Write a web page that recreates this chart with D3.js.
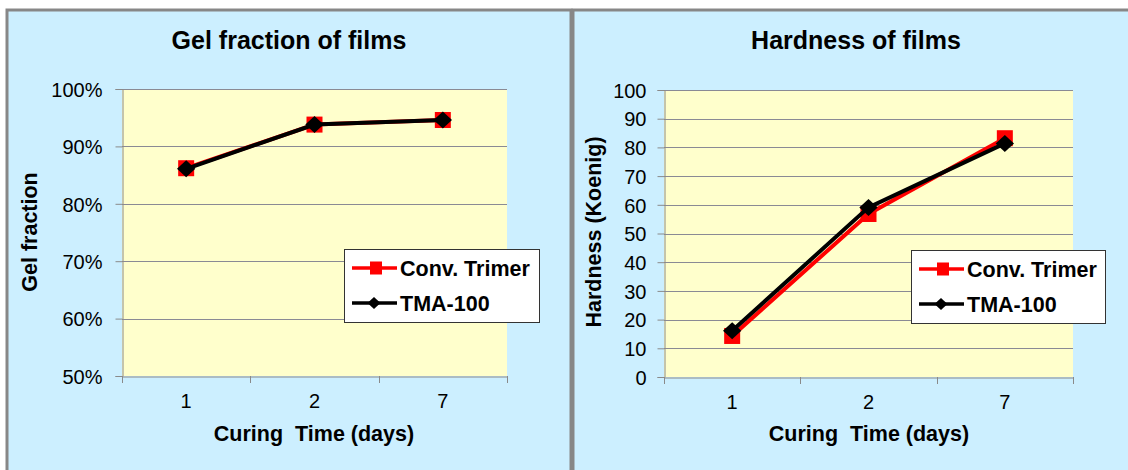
<!DOCTYPE html>
<html><head><meta charset="utf-8">
<script src="https://cdn.jsdelivr.net/npm/d3@7"></script>
<style>body{margin:0;background:#fff}svg{display:block}text{font-family:"Liberation Sans",Arial,sans-serif}</style>
</head><body>
<svg id="c" width="1128" height="470"></svg>
<script>
const categories = ["1","2","7"];
const gelConvTrimer = [0.862, 0.938, 0.946];
const gelTMA100 = [0.861, 0.938, 0.946];
const hardConvTrimer = [14.3, 56.8, 83.2];
const hardTMA100 = [16.1, 59.1, 81.4];
const gelTicks = [0.5,0.6,0.7,0.8,0.9,1.0];
const hardTicks = [0,10,20,30,40,50,60,70,80,90,100];
const seriesNames = ["Conv. Trimer","TMA-100"];

const svg = d3.select("#c");
svg.append("rect").attr("width",1128).attr("height",470).attr("fill","#fff");

// custom diamond symbol (wider than tall like the original)
const wideDiamond = {draw(ctx,size){const h=Math.sqrt(size)/2, w=h*1.08;
  ctx.moveTo(0,-h);ctx.lineTo(w,0);ctx.lineTo(0,h);ctx.lineTo(-w,0);ctx.closePath();}};

const panels = [
  {px:7, pw:564, title:"Gel fraction of films", titleX:289, ytitle:"Gel fraction", ytX:29,
   x0:122, x1:507, y0:376, y1:89, domain:[0.5,1], ticks:gelTicks, fmt:d3.format(".0%"), pad:13,
   s1:gelConvTrimer, s2:gelTMA100, leg:{x:344,y:249,w:195,h:73}, xtX:314},
  {px:573, pw:600, title:"Hardness of films", titleX:856, ytitle:"Hardness (Koenig)", ytX:593,
   x0:664, x1:1073, y0:377, y1:90, domain:[0,100], ticks:hardTicks, fmt:d3.format("d"), pad:11,
   s1:hardConvTrimer, s2:hardTMA100, leg:{x:911,y:250,w:194,h:73}, xtX:869}
];

panels.forEach(p=>{
  const g = svg.append("g");
  g.append("rect").attr("x",p.px).attr("y",10).attr("width",p.pw).attr("height",480)
    .attr("fill","#CCEFFF").attr("stroke","#878787").attr("stroke-width",3);
  const x = d3.scaleBand().domain(categories).range([p.x0,p.x1]);
  const y = d3.scaleLinear().domain(p.domain).range([p.y0,p.y1]);
  g.append("rect").attr("x",p.x0).attr("y",p.y1).attr("width",p.x1-p.x0).attr("height",p.y0-p.y1).attr("fill","#FFFFCC");
  g.selectAll(".grid").data(p.ticks.slice(1)).join("line")
    .attr("x1",p.x0).attr("x2",p.x1).attr("y1",d=>Math.round(y(d))+0.5).attr("y2",d=>Math.round(y(d))+0.5)
    .attr("stroke","#8a8a94").attr("stroke-width",1);
  const ya = g.append("g").attr("transform",`translate(${p.x0+0.5},0)`)
    .call(d3.axisLeft(y).tickValues(p.ticks).tickFormat(p.fmt).tickSize(7).tickPadding(p.pad));
  ya.select(".domain").attr("stroke","#8a8a8a");
  ya.selectAll(".tick line").attr("stroke","#8a8a8a");
  ya.selectAll("text").attr("font-size",20).attr("fill","#000").attr("dy","0.36em");
  const xa = g.append("g").attr("transform",`translate(0,${p.y0+0.5})`)
    .call(d3.axisBottom(x).tickSize(0).tickPadding(17));
  xa.select(".domain").attr("stroke","#8a8a8a");
  xa.selectAll("text").attr("font-size",20).attr("fill","#000");
  g.selectAll(".xt").data([p.x0].concat(categories.map(c=>x(c)+x.bandwidth())))
    .join("line").attr("x1",d=>Math.round(d)+0.5).attr("x2",d=>Math.round(d)+0.5)
    .attr("y1",p.y0).attr("y2",p.y0+7).attr("stroke","#8a8a8a");
  g.append("text").attr("x",p.titleX).attr("y",49).attr("text-anchor","middle")
    .attr("font-size",25).attr("font-weight","bold").text(p.title);
  g.append("text").attr("x",p.xtX).attr("y",441).attr("text-anchor","middle")
    .attr("font-size",21.5).attr("font-weight","bold").attr("xml:space","preserve").text("Curing  Time (days)");
  g.append("text").attr("transform",`translate(${p.ytX},232) rotate(-90)`).attr("text-anchor","middle")
    .attr("dy","0.36em").attr("font-size",21.5).attr("font-weight","bold").text(p.ytitle);
  const cx = c=>x(c)+x.bandwidth()/2;
  const line = d3.line().x((d,i)=>cx(categories[i])).y(d=>y(d));
  g.append("path").datum(p.s1).attr("d",line).attr("fill","none").attr("stroke","#FF0000").attr("stroke-width",4);
  g.selectAll(".sq").data(p.s1).join("rect")
    .attr("x",(d,i)=>cx(categories[i])-8).attr("y",d=>y(d)-8).attr("width",16).attr("height",16).attr("fill","#FF0000");
  g.append("path").datum(p.s2).attr("d",line).attr("fill","none").attr("stroke","#000").attr("stroke-width",4);
  const dia = d3.symbol().type(wideDiamond).size(17*17);
  g.selectAll(".dm").data(p.s2).join("path").attr("d",dia)
    .attr("transform",(d,i)=>`translate(${cx(categories[i])},${y(d)})`).attr("fill","#000");
  const L = p.leg;
  g.append("rect").attr("x",L.x+0.5).attr("y",L.y+0.5).attr("width",L.w).attr("height",L.h)
    .attr("fill","#fff").attr("stroke","#333").attr("stroke-width",1);
  const rows = [{n:seriesNames[0],c:"#FF0000",t:"sq"},{n:seriesNames[1],c:"#000",t:"dm"}];
  rows.forEach((r,i)=>{
    const ry = L.y + 19 + i*35;
    g.append("line").attr("x1",L.x+8).attr("x2",L.x+53).attr("y1",ry).attr("y2",ry).attr("stroke",r.c).attr("stroke-width",3.5);
    if(r.t==="sq") g.append("rect").attr("x",L.x+26).attr("y",ry-6.5).attr("width",12).attr("height",13).attr("fill",r.c);
    else g.append("path").attr("d",d3.symbol().type(wideDiamond).size(144)).attr("transform",`translate(${L.x+30},${ry})`).attr("fill",r.c);
    g.append("text").attr("x",L.x+56).attr("y",ry).attr("dy","0.36em").attr("font-size",21.5)
      .attr("font-weight","bold").text(r.n);
  });
});
</script>
</body></html>
